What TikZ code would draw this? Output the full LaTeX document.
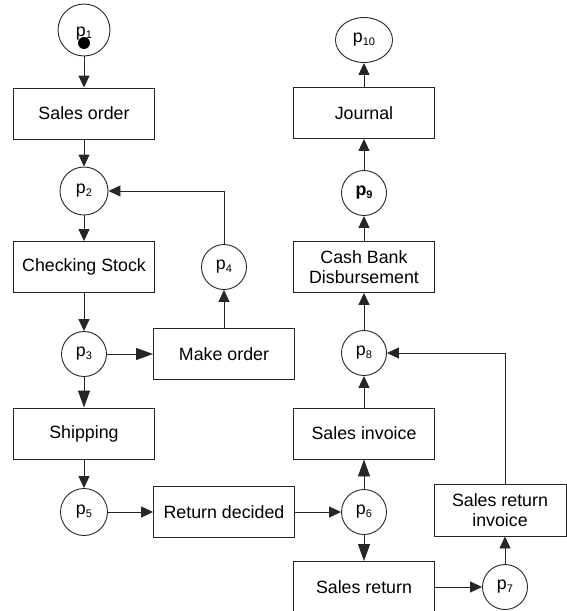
\documentclass[tikz,border=0pt]{standalone}
\usepackage{fontspec}
\setmainfont{Liberation Sans}
\usetikzlibrary{arrows.meta,shapes.geometric}
\newcommand\plab[1]{p\raisebox{-0.3ex}{\fontsize{11}{11}\selectfont #1}}
\begin{document}
\begin{tikzpicture}[x=1pt,y=-1pt,
  trans/.style={draw=black!85, line width=0.9pt, minimum width=141pt, minimum height=51pt, inner sep=0pt, font=\fontsize{17.8}{20.5}\selectfont, align=center},
  place/.style={draw=black!85, circle, line width=0.9pt, minimum size=45pt, inner sep=0pt, font=\fontsize{17.8}{20}\selectfont},
  arr/.style={draw=black!85, line width=0.9pt, -{Triangle[length=12pt,width=11pt]}},
  arrb/.style={draw=black!85, line width=0.9pt, -{Triangle[length=17pt,width=12pt]}}
]
\useasboundingbox (0,0) rectangle (567,611);
% places
\node[place, minimum size=52pt] (p1) at (84,30) {};
\node[font=\fontsize{17.8}{20}\selectfont, anchor=base, inner sep=0pt] (p1t) at (84,36) {\plab{1}};
\fill (84,43) circle (6pt);
\node[place, minimum size=48pt] (p2) at (84,191) {\plab{2}};
\node[place] (p3) at (84,354) {\plab{3}};
\node[place] (p4) at (224,267) {\plab{4}};
\node[place, minimum size=47pt] (p5) at (84,512) {\plab{5}};
\node[place] (p6) at (364,512) {\plab{6}};
\node[place] (p7) at (505,587) {\plab{7}};
\node[place] (p8) at (364,353) {\plab{8}};
\node[place] (p9) at (364,193) {\textbf{\plab{9}}};
\node[place, ellipse, minimum width=57pt, minimum height=45pt] (p10) at (364,40) {\plab{10}};
% transitions
\node[trans] (so) at (84,113.5) {Sales order};
\node[trans] (cs) at (84,267) {Checking Stock};
\node[trans] (sh) at (84,433.5) {Shipping};
\node[trans] (mo) at (224,354) {Make order};
\node[trans] (rd) at (224,512) {Return decided};
\node[trans] (jo) at (364,113) {Journal};
\node[trans] (cb) at (364,267) {Cash Bank\\Disbursement};
\node[trans] (si) at (364,433.5) {Sales invoice};
\node[trans] (sr) at (364,587) {Sales return};
\node[trans, minimum width=132pt, minimum height=52pt] (sri) at (500,510) {Sales return\\invoice};
% arcs
\draw[arr] (p1) -- (so);
\draw[arr] (so) -- (p2);
\draw[arr] (p2) -- (cs);
\draw[arr] (cs) -- (p3);
\draw[arrb] (p3) -- (mo);
\draw[arr] (mo) -- (p4);
\draw[arr] (p4.north) |- (p2.east);
\draw[arrb] (p3) -- (sh);
\draw[arr] (sh) -- (p5);
\draw[arr] (p5) -- (rd);
\draw[arr] (rd) -- (p6);
\draw[arrb] (p6) -- (si);
\draw[arrb] (p6) -- (sr);
\draw[arr] (sr) -- (p7);
\draw[arr] (p7.north) -- (p7.north |- sri.south);
\draw[arr] (p7.north |- sri.north) |- (p8.east);
\draw[arr] (si) -- (p8);
\draw[arr] (p8) -- (cb);
\draw[arr] (cb) -- (p9);
\draw[arr] (p9) -- (jo);
\draw[arr] (jo) -- (p10);
\end{tikzpicture}
\end{document}
